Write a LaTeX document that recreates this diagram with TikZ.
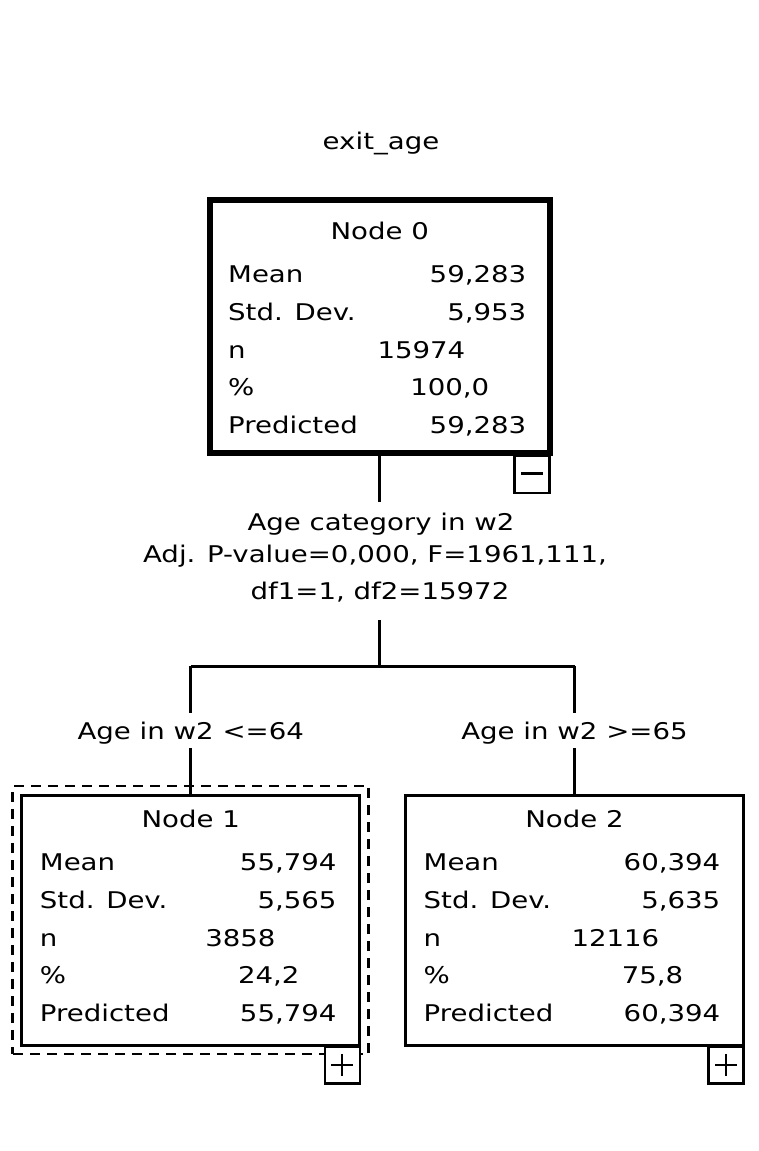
\documentclass[tikz,border=0pt]{standalone}
\usepackage{fontspec}
\setmainfont{DejaVu Sans}[FakeStretch=1.2]
\usetikzlibrary{positioning, calc, fit}

\tikzset{
  treebox/.style={draw, rectangle, line width=3pt, inner sep=0pt, outer sep=0pt,
    minimum width=338pt, minimum height=250pt},
  rootbox/.style={treebox, line width=6pt, minimum width=339.5pt, minimum height=253pt},
  togglebox/.style={draw, fill=white, rectangle, line width=2.4pt, inner sep=0pt, outer sep=0pt,
    minimum width=35pt, minimum height=37pt},
  txt/.style={inner sep=0pt, font=\fontsize{23}{31}\selectfont},
  branchlab/.style={txt, anchor=base, text height=17pt, text depth=0pt, inner ysep=9pt},
  branch/.style={line width=3pt},
}

% title and the five rows of one tree node
\newcommand{\nodestats}[8]{%
  \node[txt, anchor=base] (#1title) at ($(#1.north)+(0,#2)$) {#3};
  \node[txt, anchor=base west] at ($(#1.north west)+(18,#2+43)$) {Mean};
  \node[txt, anchor=base east] at ($(#1.north east)+(-23,#2+43)$) {#4};
  \node[txt, anchor=base west] at ($(#1.north west)+(18,#2+80.8)$) {Std. Dev.};
  \node[txt, anchor=base east] at ($(#1.north east)+(-23,#2+80.8)$) {#5};
  \node[txt, anchor=base west] at ($(#1.north west)+(18,#2+118.6)$) {n};
  \node[txt, anchor=base east] at ($(#1.north east)+(-84,#2+118.6)$) {#6};
  \node[txt, anchor=base west] at ($(#1.north west)+(18,#2+156.4)$) {\%};
  \node[txt, anchor=base east] at ($(#1.north east)+(-60,#2+156.4)$) {#7};
  \node[txt, anchor=base west] at ($(#1.north west)+(18,#2+194.2)$) {Predicted};
  \node[txt, anchor=base east] at ($(#1.north east)+(-23,#2+194.2)$) {#8};
}

\begin{document}
\begin{tikzpicture}[x=1pt, y=-1pt]
  \useasboundingbox (0,0) rectangle (759,1151);

  \node[txt] (title) at (381,143) {exit\_age};

  % boxes
  \node[rootbox] (n0) at (379.75,326.5) {};
  \node[treebox] (n1) at (190.75,920) {};
  \node[treebox] (n2) at (574.5,920) {};
  \node[draw, dashed, dash pattern=on 10pt off 7pt, line width=2.6pt, inner xsep=9pt,
    inner ysep=9pt, fit=(n1)] (sel) {};

  \nodestats{n0}{39.5}{Node 0}{59,283}{5,953}{15974}{100,0}{59,283}
  \nodestats{n1}{32.5}{Node 1}{55,794}{5,565}{3858}{24,2}{55,794}
  \nodestats{n2}{32.5}{Node 2}{60,394}{5,635}{12116}{75,8}{60,394}

  % expand / collapse toggles
  \node[togglebox, anchor=north east] (m0) at ($(n0.south east)+(0,3)$) {};
  \draw[line width=2.4pt] ($(m0.center)+(-11,-1)$) -- ($(m0.center)+(11,-1)$);
  \node[togglebox, anchor=north east] (p1) at ($(n1.south east)+(0,1.3)$) {};
  \draw[line width=2.4pt] ($(p1.center)+(-11,0)$) -- ($(p1.center)+(11,0)$);
  \draw[line width=2.4pt] ($(p1.center)+(0,-11)$) -- ($(p1.center)+(0,11)$);
  \node[togglebox, anchor=north east] (p2) at ($(n2.south east)+(0,1.3)$) {};
  \draw[line width=2.4pt] ($(p2.center)+(-11,0)$) -- ($(p2.center)+(11,0)$);
  \draw[line width=2.4pt] ($(p2.center)+(0,-11)$) -- ($(p2.center)+(0,11)$);

  % split
  \node[txt, anchor=base] (split1) at (381,530) {Age category in w2};
  \node[txt, anchor=base] (split2) at (375,562) {Adj. P-value=0,000, F=1961,111,};
  \node[txt, anchor=base] (split3) at (380,599) {df1=1, df2=15972};
  \node[branchlab] (lab1) at (190.75,739) {Age in w2 <=64};
  \node[branchlab] (lab2) at (574.5,739) {Age in w2 >=65};

  \coordinate (c0) at (379.75,502);
  \coordinate (c1) at (379.75,620);
  \coordinate (j0) at (379.75,666);
  \coordinate (jl) at (190.75,666);
  \coordinate (jr) at (574.5,666);

  \draw[branch] (n0.south) -- (c0);
  \draw[branch] (c1) -- (j0);
  \draw[branch] (jl) -- (jr);
  \draw[branch] (jl) -- (lab1.north);
  \draw[branch] (lab1.south) -- (n1.north);
  \draw[branch] (jr) -- (lab2.north);
  \draw[branch] (lab2.south) -- (n2.north);
\end{tikzpicture}
\end{document}
